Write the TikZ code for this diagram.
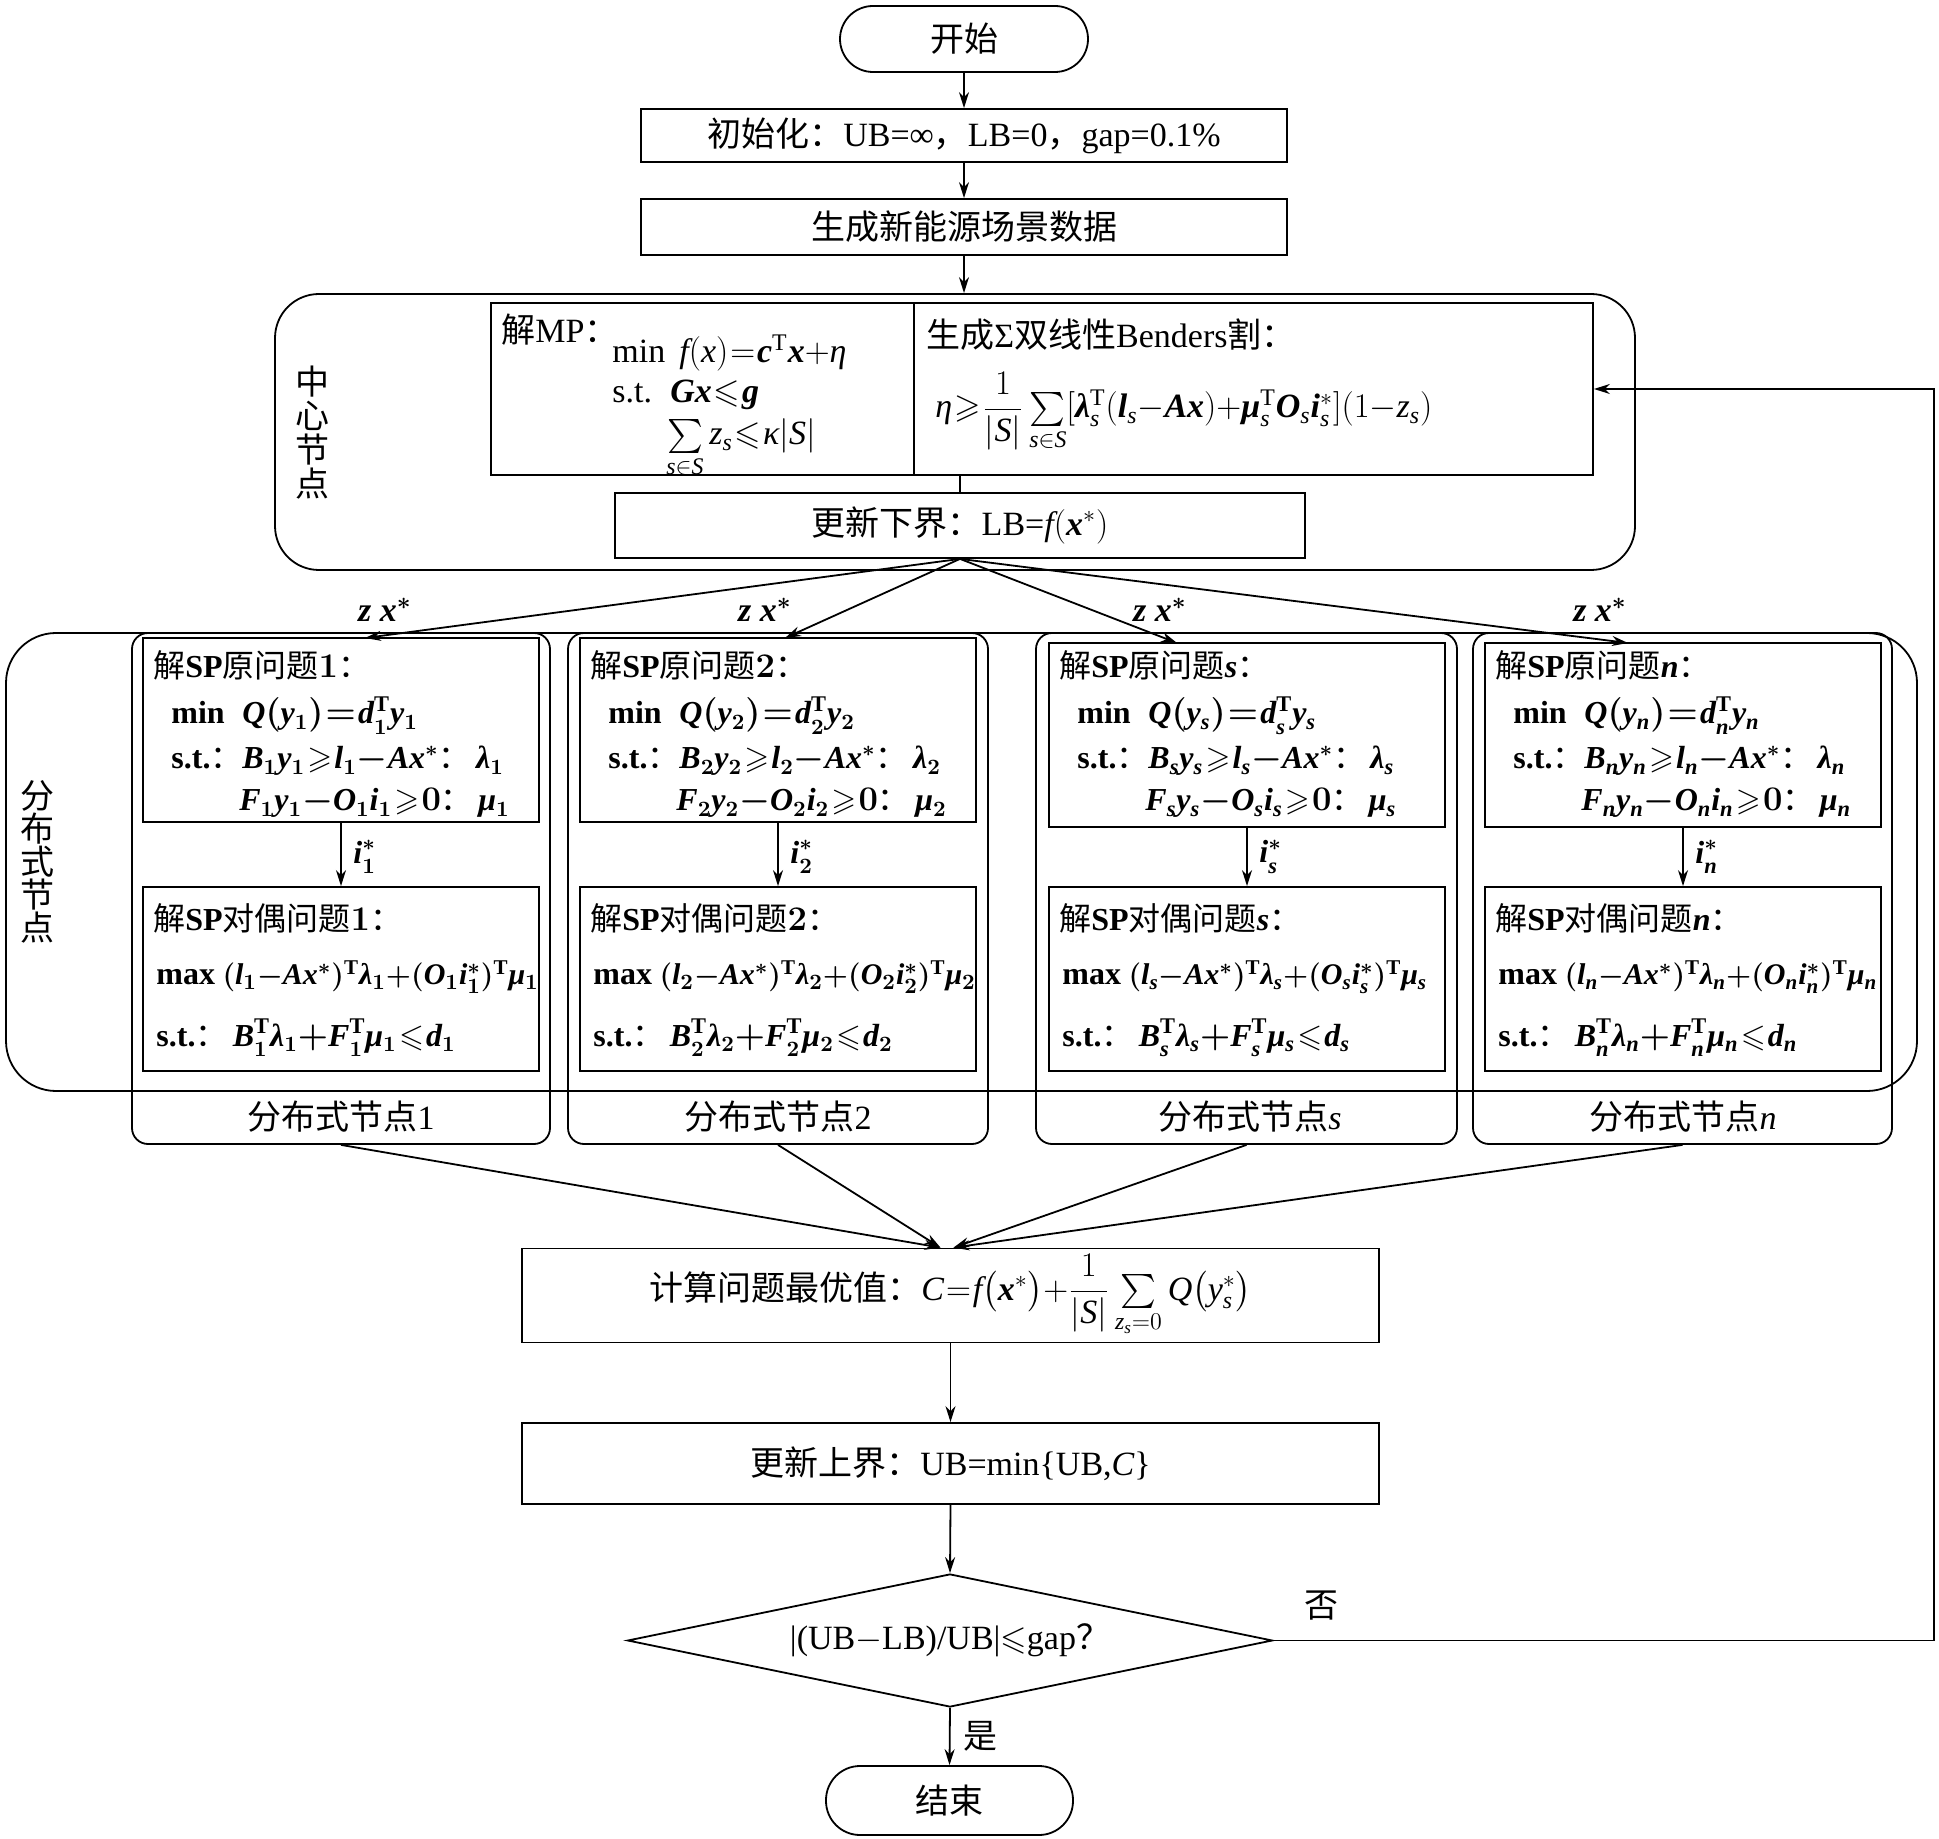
\documentclass[tikz,border=0pt]{standalone}
\usepackage{amsmath}
\usepackage{amssymb}
\usepackage{fontspec}
\setmainfont{Liberation Serif}
\newfontfamily\lsfam{Liberation Serif}[NFSSFamily=libser]
\newfontfamily\cjk{Noto Sans CJK SC}
\DeclareSymbolFont{letters}{TU}{libser}{m}{it}
\SetSymbolFont{letters}{bold}{TU}{libser}{b}{it}
\Umathchardef\lambda="0 \symletters "03BB
\Umathchardef\mu="0 \symletters "03BC
\Umathchardef\eta="0 \symletters "03B7
\Umathchardef\kappa="0 \symletters "03BA
\usepackage{bm}
\medmuskip=0mu
\thickmuskip=1mu
\usetikzlibrary{arrows.meta,shapes.geometric}
\newcommand\zh[1]{{\cjk\mdseries #1}}
\newcommand\fsM{\fontsize{17}{20}\selectfont}
\newcommand\fsS{\fontsize{16}{19}\selectfont}
\newcommand\fsT{\fontsize{15}{18}\selectfont}
\newcommand\fsV{\fontsize{17}{17}\selectfont}
\newcommand\TT{\mathrm{T}}

\tikzset{
  lw/.style={line width=0.9pt},
  tbox/.style={draw, lw, rectangle, inner sep=0pt, font=\fsM},
  arr/.style={lw, -{Stealth[length=8pt,width=5pt]}},
  txt/.style={anchor=base west, inner sep=0pt, font=\fsM},
  sptxt/.style={anchor=base west, inner sep=0pt, font=\fsS\bfseries\boldmath},
  sptxtn/.style={anchor=base west, inner sep=0pt, font=\fsT\bfseries\boldmath},
  lbl/.style={inner sep=0pt, font=\fsM},
}

% #1 id, #2 box left (px), #3 primal top (px), #4 index
\newcommand\SPcol[4]{%
  \node[tbox, minimum width=198pt, minimum height=92pt] (p#1) at ({#2+198},{#3+92}) {};
  \node[tbox, minimum width=198pt, minimum height=92pt] (d#1) at ({#2+198},979) {};
  \node[sptxt] (p#1t) at ({#2+10},678) {\zh{解}SP\zh{原问题}$#4$\zh{：}};
  \node[sptxt] (p#1a) at ({#2+28},724) {min};
  \node[sptxt] (p#1b) at ({#2+99},724) {$Q(y_{#4})=d_{#4}^{\TT}y_{#4}$};
  \node[sptxt] (p#1c) at ({#2+28},769) {s.t.\zh{：}};
  \node[sptxt] (p#1d) at ({#2+99},769) {$B_{#4}y_{#4}\geqslant l_{#4}-Ax^*$\zh{：}\,$\lambda_{#4}$};
  \node[sptxt] (p#1e) at ({#2+96},811) {$F_{#4}y_{#4}-O_{#4}i_{#4}\geqslant 0$\zh{：}\,$\mu_{#4}$};
  \node[sptxt] (d#1t) at ({#2+10},930) {\zh{解}SP\zh{对偶问题}$#4$\zh{：}};
  \node[sptxtn] (d#1a) at ({#2+13},985) {{\fsS max}\ $(l_{#4}-Ax^*)^{\TT}\lambda_{#4}+(O_{#4}i_{#4}^*)^{\TT}\mu_{#4}$};
  \node[sptxt] (d#1b) at ({#2+13},1046) {s.t.\zh{：}\,$B_{#4}^{\TT}\lambda_{#4}+F_{#4}^{\TT}\mu_{#4}\leqslant d_{#4}$};
  \draw[arr] (p#1.south) -- (d#1.north);
  \node[anchor=west, inner sep=0pt, font=\fsS\boldmath] (i#1) at ({#2+210},857) {$i_{#4}^*$};
}

\begin{document}
\begin{tikzpicture}[x=0.5pt,y=-0.5pt]
\useasboundingbox (0,0) rectangle (1939,1839);
\fill[white] (0,0) rectangle (1939,1839);

% top chain
\node[tbox, rounded corners=16.5pt, minimum width=124pt, minimum height=33pt] (start) at (964,39) {\zh{开始}};
\node[tbox, minimum width=323pt, minimum height=26.5pt] (init) at (964,135.5)
  {\zh{初始化：}UB=∞\zh{，}LB=0\zh{，}gap=0.1\%};
\node[tbox, minimum width=323pt, minimum height=28pt] (gen) at (964,227) {\zh{生成新能源场景数据}};

% central node
\node[draw, lw, rounded corners=22pt, minimum width=680pt, minimum height=138pt] (central) at (955,432) {};
\node[lbl, align=center, font=\fsV] (cnlab) at (312,433) {\zh{中}\\\zh{心}\\\zh{节}\\\zh{点}};
\node[tbox, minimum width=211.5pt, minimum height=86pt] (mpL) at (702.5,389) {};
\node[tbox, minimum width=339.5pt, minimum height=86pt] (mpR) at (1253.5,389) {};
\node[txt] (mpT) at (501,343) {\zh{解}MP\zh{：}};
\node[txt] (mpa) at (612,363) {min};
\node[txt] (mpb) at (679,363) {$f(x)=\bm{c}^{\TT}\bm{x}+\eta$};
\node[txt] (mpc) at (612,403) {s.t.};
\node[txt] (mpd) at (670,403) {$\bm{G}\bm{x}\leqslant\bm{g}$};
\node[txt] (mpe) at (666,445) {$\sum\limits_{s\in S}z_s\leqslant\kappa|S|$};
\node[txt] (mrT) at (926,348) {\zh{生成}Σ\zh{双线性}Benders\zh{割：}};
\node[txt] (mrF) at (935,418) {$\eta\geqslant\dfrac{1}{|S|}\sum\limits_{s\in S}[\bm{\lambda}_s^{\TT}(\bm{l}_s-\bm{A}\bm{x})+\bm{\mu}_s^{\TT}\bm{O}_s\bm{i}_s^*](1-z_s)$};
\node[tbox, minimum width=345pt, minimum height=32.5pt] (lb) at (960,525.5) {\zh{更新下界：}LB=$f(\bm{x}^*)$};

% distributed nodes
\node[draw, lw, rounded corners=25pt, minimum width=955.5pt, minimum height=229pt] (dist) at (961.5,862) {};
\node[lbl, align=center, font={\fontsize{17}{16.5}\selectfont}] (dnlab) at (37,862) {\zh{分}\\\zh{布}\\\zh{式}\\\zh{节}\\\zh{点}};
\node[draw, lw, rounded corners=8pt, minimum width=209pt, minimum height=255.5pt] (c1) at (341,888.5) {};
\node[draw, lw, rounded corners=8pt, minimum width=210pt, minimum height=255.5pt] (c2) at (778,888.5) {};
\node[draw, lw, rounded corners=8pt, minimum width=210.5pt, minimum height=255.5pt] (c3) at (1246.5,888.5) {};
\node[draw, lw, rounded corners=8pt, minimum width=209.5pt, minimum height=255.5pt] (c4) at (1682.5,888.5) {};
\SPcol{1}{143}{638}{1}
\SPcol{2}{580}{638}{2}
\SPcol{3}{1049}{643}{s}
\SPcol{4}{1485}{643}{n}
\node[lbl] (c1l) at (341,1117) {\zh{分布式节点}1};
\node[lbl] (c2l) at (778,1117) {\zh{分布式节点}2};
\node[lbl] (c3l) at (1250,1117) {\zh{分布式节点}$s$};
\node[lbl] (c4l) at (1683,1117) {\zh{分布式节点}$n$};

% fan-out arrows
\coordinate (t1) at (365,638);
\coordinate (t2) at (785,638);
\coordinate (t3) at (1177,643);
\coordinate (t4) at (1628,643);
\foreach \k in {1,2,3,4} {\draw[arr] (lb.south) -- (t\k);}
\node[lbl, font=\fsM\boldmath] (zx1) at (385,610) {$z\ x^*$};
\node[lbl, font=\fsM\boldmath] (zx2) at (765,610) {$z\ x^*$};
\node[lbl, font=\fsM\boldmath] (zx3) at (1160,610) {$z\ x^*$};
\node[lbl, font=\fsM\boldmath] (zx4) at (1600,610) {$z\ x^*$};

% bottom chain
\node[tbox, minimum width=428.5pt, minimum height=47pt] (calc) at (950.5,1295.5)
  {\zh{计算问题最优值：}$C=f\bigl(\bm{x}^*\bigr)+\dfrac{1}{|S|}\sum\limits_{z_s=0}Q\bigl(y_s^*\bigr)$};
\node[tbox, minimum width=428.5pt, minimum height=40.5pt] (ub) at (950.5,1463.5)
  {\zh{更新上界：}UB=min\{UB,$C$\}};
\node[draw, lw, diamond, aspect=4.85, inner sep=0pt, minimum width=322.5pt, minimum height=66.5pt, font=\fsM] (dec) at (950,1640.5)
  {|(UB$-$LB)/UB|$\leqslant$gap\zh{？}};
\node[tbox, rounded corners=17pt, minimum width=123.5pt, minimum height=34.5pt] (stop) at (949.5,1800.5) {\zh{结束}};

\draw[arr] (start.south) -- (init.north);
\draw[arr] (init.south) -- (gen.north);
\draw[arr] (gen.south) -- (central.north -| gen.south);
\draw[lw] (lb.north) -- (lb.north |- mpR.south);
\draw[arr] (c1.south) -- ([xshift=-5pt]calc.north);
\draw[arr] (c2.south) -- ([xshift=-5pt]calc.north);
\draw[arr] (c3.south) -- ([xshift=1.5pt]calc.north);
\draw[arr] (c4.south) -- ([xshift=1.5pt]calc.north);
\draw[arr] (calc.south) -- (ub.north);
\draw[arr] (ub.south) -- (dec.north);
\draw[arr] (dec.south) -- (stop.north);
\coordinate (fb) at (1934,0);
\draw[arr] (dec.east) -- (dec.east -| fb) |- (mpR.east);
\node[lbl] (no) at (1321,1606) {\zh{否}};
\node[lbl] (yes) at (980,1736) {\zh{是}};
\end{tikzpicture}
\end{document}
